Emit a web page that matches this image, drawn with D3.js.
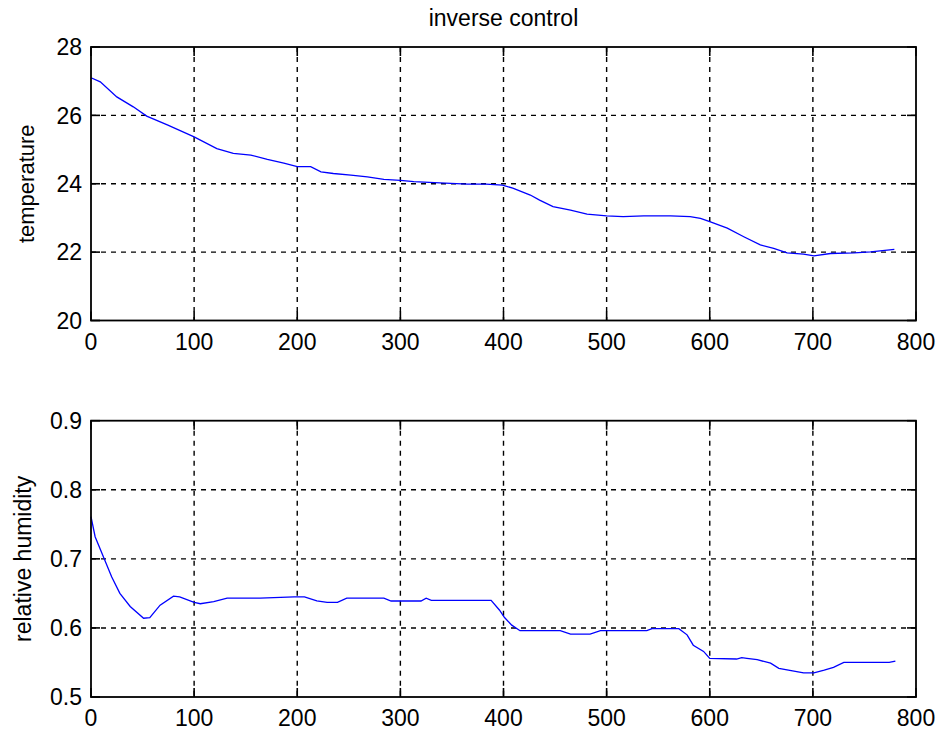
<!DOCTYPE html>
<html>
<head>
<meta charset="utf-8">
<script src="https://cdn.jsdelivr.net/npm/d3@7"></script>
<style>
  html, body { margin: 0; padding: 0; background: #fff; }
  svg { display: block; font-family: "Liberation Sans", Arial, sans-serif; }
</style>
</head>
<body>
<div id="chart"></div>
<script>
// values
const titleText = "inverse control";
const xTicks = [0, 100, 200, 300, 400, 500, 600, 700, 800];
const tempTicks = [20, 22, 24, 26, 28];
const humTicks = [0.5, 0.6, 0.7, 0.8, 0.9];

const tempT = [0, 9, 25, 41, 54, 74, 100, 122, 138, 155, 171, 187, 200, 213, 223, 235, 252, 268, 284, 300, 313, 333, 365,
  383, 399, 409, 426, 435, 448, 465, 481, 500, 516, 536, 562, 581, 591, 600, 617, 633, 649, 662, 675, 691, 701, 717, 740, 756, 779];
const tempV = [27.1, 26.98, 26.54, 26.25, 25.98, 25.72, 25.37, 25.03, 24.89, 24.84, 24.71, 24.6, 24.5, 24.5, 24.35, 24.3, 24.25, 24.2, 24.13, 24.1, 24.06, 24.03, 23.99,
  23.99, 23.96, 23.87, 23.67, 23.52, 23.33, 23.23, 23.11, 23.06, 23.04, 23.06, 23.06, 23.04, 22.99, 22.89, 22.7, 22.45, 22.21, 22.11, 21.98, 21.94, 21.89, 21.96, 21.98, 22.01, 22.08];

const humT = [0, 4, 12, 20, 28, 38, 51, 57, 67, 80, 86, 100, 106, 119, 132, 164, 197, 207, 219, 229, 239, 248, 284, 291, 320, 325, 330, 388,
  396, 401, 408, 416, 455, 465, 484, 494, 539, 544, 570, 578, 584, 594, 600, 626, 631, 636, 646, 659, 667, 683, 691, 701, 711, 720, 730, 774, 780];
const humV = [0.761, 0.732, 0.703, 0.674, 0.65, 0.631, 0.614, 0.615, 0.633, 0.646, 0.645, 0.637, 0.635, 0.638, 0.643, 0.643, 0.645, 0.645, 0.639, 0.637, 0.637, 0.643, 0.643, 0.639, 0.639, 0.643, 0.64, 0.64,
  0.626, 0.615, 0.604, 0.596, 0.596, 0.591, 0.591, 0.596, 0.596, 0.599, 0.599, 0.59, 0.575, 0.566, 0.556, 0.555, 0.557, 0.556, 0.554, 0.549, 0.5415, 0.537, 0.535, 0.535, 0.539, 0.543, 0.55, 0.55, 0.552];

const width = 939;
const height = 734;
const left = 91;
const right = 916;
const tickLen = 9;
const fontSize = 23;

const svg = d3.select("#chart").append("svg")
  .attr("width", width)
  .attr("height", height);

const x = d3.scaleLinear().domain([0, 800]).range([left, right]);

svg.append("text")
  .attr("x", (left + right) / 2)
  .attr("y", 26)
  .attr("text-anchor", "middle")
  .attr("font-size", fontSize)
  .text(titleText);

function drawPanel(top, bottom, domain, yTicks, fmt, label, ts, vs) {
  const y = d3.scaleLinear().domain(domain).range([bottom, top]);
  const g = svg.append("g");

  // grid, dashed
  const grid = g.append("g")
    .attr("stroke", "#000")
    .attr("stroke-width", 1.4)
    .attr("stroke-dasharray", "5,5");
  grid.selectAll("line.vx")
    .data(xTicks.slice(1, -1))
    .join("line")
    .attr("x1", (d) => x(d)).attr("x2", (d) => x(d))
    .attr("y1", top).attr("y2", bottom);
  grid.selectAll("line.hy")
    .data(yTicks.slice(1, -1))
    .join("line")
    .attr("class", "hy")
    .attr("x1", left).attr("x2", right)
    .attr("y1", (d) => y(d)).attr("y2", (d) => y(d));

  // data line
  const pts = ts.map((t, i) => [t, vs[i]]);
  g.append("path")
    .datum(pts)
    .attr("fill", "none")
    .attr("stroke", "#0000ff")
    .attr("stroke-width", 1.3)
    .attr("d", d3.line().x((d) => x(d[0])).y((d) => y(d[1])));

  // box
  g.append("rect")
    .attr("x", left).attr("y", top)
    .attr("width", right - left).attr("height", bottom - top)
    .attr("fill", "none")
    .attr("stroke", "#000")
    .attr("stroke-width", 1.8);

  // inward ticks on all four sides
  const tk = g.append("g").attr("stroke", "#000").attr("stroke-width", 1.6);
  xTicks.forEach((d) => {
    tk.append("line").attr("x1", x(d)).attr("x2", x(d)).attr("y1", bottom).attr("y2", bottom - tickLen);
    tk.append("line").attr("x1", x(d)).attr("x2", x(d)).attr("y1", top).attr("y2", top + tickLen);
  });
  yTicks.forEach((d) => {
    tk.append("line").attr("x1", left).attr("x2", left + tickLen).attr("y1", y(d)).attr("y2", y(d));
    tk.append("line").attr("x1", right).attr("x2", right - tickLen).attr("y1", y(d)).attr("y2", y(d));
  });

  g.append("g").selectAll("text")
    .data(xTicks)
    .join("text")
    .attr("x", (d) => x(d))
    .attr("y", bottom + 29)
    .attr("text-anchor", "middle")
    .attr("font-size", fontSize)
    .text((d) => d);

  g.append("g").selectAll("text")
    .data(yTicks)
    .join("text")
    .attr("x", left - 9)
    .attr("y", (d) => y(d))
    .attr("dy", "0.36em")
    .attr("text-anchor", "end")
    .attr("font-size", fontSize)
    .text((d) => fmt(d));

  g.append("text")
    .attr("transform", `translate(${label.x},${(top + bottom) / 2}) rotate(-90)`)
    .attr("text-anchor", "middle")
    .attr("font-size", label.size)
    .text(label.text);
}

drawPanel(47, 320.5, [20, 28], tempTicks, d3.format("d"),
  { text: "temperature", x: 34, size: 22 }, tempT, tempV);
drawPanel(420.7, 697, [0.5, 0.9], humTicks, d3.format(".1f"),
  { text: "relative humidity", x: 31, size: 23 }, humT, humV);
</script>
</body>
</html>
